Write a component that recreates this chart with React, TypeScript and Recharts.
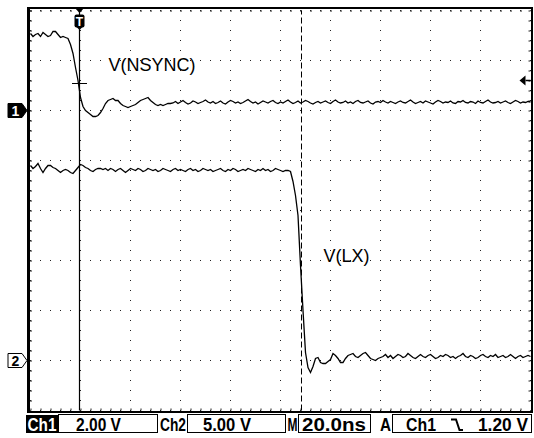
import {
  CartesianGrid,
  Line,
  LineChart,
  ReferenceArea,
  ReferenceDot,
  ReferenceLine,
  XAxis,
  YAxis,
} from "recharts";

// scope screen: 10 div x 20.0 ns, one sample per ns
const SAMPLE_NS = 1;
const timeTicks = [0, 20, 40, 60, 80, 100, 120, 140, 160, 180, 200];

// Ch1 2.00 V/div, ground marker 6 div up from the bottom
const ch1Ticks = [-12, -10, -8, -6, -4, -2, 0, 2, 4];
// Ch2 5.00 V/div, ground marker 1 div up from the bottom
const ch2Domain = [-5, 35];

const triggerTime = 19.6;
const triggerLevel = 1.2;
const crossLevel = 1.08;
const cursorTime = 108.4;

// V(NSYNC), volts
const ch1Volts = [
  3.08, 2.96, 3.04, 3.08, 2.96, 3.12, 3.04, 2.96, 3.0, 3.16, 3.16, 3.04,
  2.92, 2.96, 2.92, 2.88, 2.64, 2.28, 1.72, 1.2, 0.52, 0.16, 0.0, -0.08,
  -0.16, -0.24, -0.24, -0.2, -0.08, 0.08, 0.28, 0.4, 0.44, 0.48, 0.4, 0.4,
  0.28, 0.2, 0.16, 0.12, 0.16, 0.2, 0.24, 0.32, 0.4, 0.44, 0.48, 0.52,
  0.4, 0.32, 0.24, 0.2, 0.24, 0.2, 0.24, 0.28, 0.28,
  0.3, 0.36, 0.28, 0.34, 0.4, 0.32, 0.26, 0.3, 0.38, 0.34, 0.28, 0.32,
  0.36, 0.42, 0.34, 0.3, 0.36, 0.28, 0.32, 0.38, 0.3, 0.26, 0.34, 0.4,
  0.36, 0.3, 0.34, 0.28, 0.32, 0.38, 0.44, 0.36, 0.3, 0.34, 0.26, 0.32,
  0.38, 0.34, 0.3, 0.36, 0.4, 0.32, 0.28, 0.34, 0.3, 0.36, 0.42, 0.34,
  0.28, 0.32, 0.38, 0.3, 0.34, 0.4, 0.36, 0.3, 0.26, 0.32, 0.36, 0.3,
  0.34, 0.38, 0.32, 0.28, 0.36, 0.42, 0.34, 0.3, 0.32, 0.38, 0.3, 0.34,
  0.28, 0.36, 0.4, 0.32, 0.3, 0.34, 0.38, 0.3, 0.26, 0.34, 0.36, 0.32,
  0.4, 0.34, 0.3, 0.36, 0.32, 0.28, 0.34, 0.38, 0.32, 0.3, 0.36, 0.42,
  0.34, 0.28, 0.32, 0.36, 0.3, 0.38, 0.34, 0.3, 0.26, 0.34, 0.4, 0.36,
  0.3, 0.34, 0.32, 0.38, 0.3, 0.28, 0.36, 0.34, 0.4, 0.32, 0.3, 0.36,
  0.34, 0.28, 0.38, 0.32, 0.3, 0.36, 0.42, 0.34, 0.3, 0.32, 0.36, 0.3,
  0.34, 0.38, 0.32, 0.28, 0.34, 0.4, 0.36, 0.3, 0.34, 0.32, 0.36, 0.34,
];

// V(LX), volts
const ch2Volts = [
  19.5, 19.2, 19.4, 19.7, 19.2, 18.8, 19.2, 19.5, 19.5, 19.3, 19.2, 19.0,
  18.8, 19.0, 19.1, 19.0, 18.8, 18.7, 19.0, 19.3, 19.6, 19.5, 19.3, 19.2,
  19.0, 18.9, 19.1, 19.2, 19.2,
  19.1, 19.2, 19.0, 19.2, 19.1, 18.9, 19.1, 19.2, 19.0, 18.8, 19.0, 19.2,
  19.1, 19.0, 19.2, 19.1, 18.9, 19.0, 19.2, 19.1, 19.0, 19.1, 18.9, 19.0,
  19.2, 19.1, 19.0, 18.9, 19.1, 19.2, 19.0, 19.1, 19.0, 18.9, 19.1, 19.2,
  19.0, 19.1, 18.9, 19.0, 19.2, 19.1, 19.0, 19.1, 18.9, 19.0, 19.1, 19.2,
  19.0, 18.9, 19.1, 19.0, 19.2, 19.1, 18.9, 19.0, 19.1, 19.0, 19.2, 19.1,
  19.0, 18.9, 19.1, 19.0, 19.2, 19.0, 19.1, 18.9, 19.0, 19.2, 19.1, 19.0,
  18.9, 19.0,
  19.0, 18.9, 17.9, 16.5, 14.5, 9.5, 5.0, 0.8, -0.7, -1.2, -0.6, 0.2,
  0.3, -0.2, -0.3, -0.3, -0.1, 0.1, 0.7, 0.5, 0.2, -0.2, -0.2, 0.2,
  0.5, 0.6, 0.7, 0.4, 0.3, 0.5, 0.7, 0.8, 0.5, 0.2, 0.1, 0.0, 0.2, 0.3,
  0.4, 0.6, 0.3, 0.5, 0.2, 0.4, 0.6, 0.5, 0.3, 0.4, 0.7, 0.5,
  0.3, 0.2, 0.4, 0.6, 0.4, 0.3, 0.5, 0.6, 0.4, 0.2, 0.3, 0.5,
  0.4, 0.6, 0.5, 0.3, 0.4, 0.2, 0.4, 0.5, 0.7, 0.4, 0.3, 0.5,
  0.4, 0.2, 0.3, 0.5, 0.6, 0.4, 0.3, 0.5, 0.4, 0.6, 0.3, 0.4,
  0.5, 0.3, 0.4, 0.6, 0.4, 0.2, 0.4, 0.5, 0.3, 0.4, 0.5, 0.4,
];

const rows = ch1Volts.map((v, i) => ({
  t: i * SAMPLE_NS,
  ch1: v,
  ch2: ch2Volts[i],
}));

const FONT = "'Liberation Sans', Arial, sans-serif";

type Box = { x: number; y: number; width: number; height: number };

function Frame({ x, y, width, height }: Box) {
  const ticks = { stroke: "#222", strokeWidth: 2, strokeDasharray: "1 9" };
  return (
    <g>
      <line x1={x + 0.5} y1={y} x2={x + 0.5} y2={y + height} {...ticks} />
      <line x1={x + width - 1} y1={y} x2={x + width - 1} y2={y + height} {...ticks} />
      <line x1={x} y1={y + 0.5} x2={x + width} y2={y + 0.5} {...ticks} />
      <line x1={x} y1={y + height - 1} x2={x + width} y2={y + height - 1} {...ticks} />
      <rect x={x - 3.5} y={y - 3.5} width={3} height={height + 6} fill="#000" />
      <rect x={x - 3.5} y={y - 3.5} width={width + 6} height={2} fill="#000" />
      <rect x={x + width + 0.5} y={y - 3.5} width={2} height={height + 6} fill="#000" />
      <rect x={x - 3.5} y={y + height + 0.5} width={width + 6} height={2} fill="#000" />
    </g>
  );
}

function TriggerMark({ viewBox }: { viewBox?: Box }) {
  if (!viewBox) return null;
  const { x, y } = viewBox;
  return (
    <g>
      <path d={`M${x - 5},${y - 3} L${x + 5},${y - 3} L${x},${y + 2.5} Z`} fill="#000" />
      <rect x={x - 5} y={y + 4} width={10} height={13} rx={2} fill="#000" />
      <path d={`M${x - 3},${y + 16.5} L${x + 3},${y + 16.5} L${x},${y + 19.5} Z`} fill="#000" />
      <text x={x} y={y + 15} textAnchor="middle" fill="#fff" fontSize={12} fontWeight="bold" fontFamily={FONT}>
        T
      </text>
    </g>
  );
}

function LevelArrow({ viewBox }: { viewBox?: Box }) {
  if (!viewBox) return null;
  const right = viewBox.x + viewBox.width;
  const y = viewBox.y;
  return (
    <g>
      <path d={`M${right - 11},${y} L${right - 5},${y - 5} L${right - 5},${y + 5} Z`} fill="#000" />
      <line x1={right - 5} y1={y} x2={right} y2={y} stroke="#000" strokeWidth={1.5} />
    </g>
  );
}

function GroundMark({ viewBox, name, filled }: { viewBox?: Box; name: string; filled: boolean }) {
  if (!viewBox) return null;
  const l = viewBox.x;
  const y = viewBox.y;
  return (
    <g>
      <path
        d={`M${l - 22.5},${y - 7} L${l - 8.5},${y - 7} L${l - 3.5},${y} L${l - 8.5},${y + 7} L${l - 22.5},${y + 7} Z`}
        fill={filled ? "#000" : "#fff"}
        stroke="#000"
        strokeWidth={1}
      />
      <text
        x={l - 15}
        y={y + 5}
        textAnchor="middle"
        fill={filled ? "#fff" : "#000"}
        fontSize={14}
        fontWeight="bold"
        fontFamily={FONT}
      >
        {name}
      </text>
    </g>
  );
}

function traceLabel(text: string) {
  return (p: any) => {
    const vb = p.viewBox as Box;
    return (
      <text
        x={vb.x + vb.width / 2}
        y={vb.y + vb.height / 2}
        textAnchor="middle"
        dominantBaseline="central"
        fontSize={18}
        fontFamily={FONT}
        fill="#000"
      >
        {text}
      </text>
    );
  };
}

function StatusBar() {
  const txt = { fontSize: 18, fontWeight: 600, fontFamily: FONT, lengthAdjust: "spacingAndGlyphs" } as const;
  const box = { fill: "none", stroke: "#000", strokeWidth: 1 };
  const base = 431;
  return (
    <svg width={534} height={438} style={{ position: "absolute", left: 0, top: 0, pointerEvents: "none" }}>
      <rect x={26} y={415} width={32} height={18} fill="#000" />
      <text x={27.5} y={base} fill="#fff" textLength={29} {...txt}>Ch1</text>
      <rect x={58.5} y={414.5} width={99} height={18} {...box} />
      <text x={76} y={base} textLength={45} {...txt}>2.00 V</text>
      <text x={160} y={base} textLength={26} {...txt}>Ch2</text>
      <rect x={187.5} y={414.5} width={98} height={18} {...box} />
      <text x={203} y={base} textLength={48} {...txt}>5.00 V</text>
      <text x={287.5} y={base} textLength={10} {...txt}>M</text>
      <rect x={298.5} y={414.5} width={72} height={18} {...box} />
      <text x={302} y={base} textLength={64} {...txt}>20.0ns</text>
      <text x={380} y={base} textLength={11} {...txt}>A</text>
      <rect x={392.5} y={414.5} width={139} height={18} {...box} />
      <text x={406} y={base} textLength={30} {...txt}>Ch1</text>
      <path d="M451,419.5 H456 L459.5,430 H463" fill="none" stroke="#000" strokeWidth={2} />
      <text x={478} y={base} textLength={50} {...txt}>1.20 V</text>
    </svg>
  );
}

export default function App() {
  return (
    <div style={{ position: "fixed", left: 0, top: 0, width: 534, height: 438, background: "#fff" }}>
      <LineChart
        width={534}
        height={438}
        data={rows}
        margin={{ top: 10.5, right: 3.5, bottom: 27.5, left: 30.5 }}
      >
        <XAxis type="number" dataKey="t" domain={[0, 200]} ticks={timeTicks} hide />
        <YAxis yAxisId="ch1" type="number" domain={[-12, 4]} ticks={ch1Ticks} hide />
        <YAxis yAxisId="ch2" type="number" domain={ch2Domain} hide />
        <CartesianGrid yAxisId="ch1" stroke="#222" strokeDasharray="1 9" strokeDashoffset={0.5} />
        <ReferenceArea
          yAxisId="ch1"
          x1={0}
          x2={200}
          y1={-12}
          y2={4}
          shape={(p: any) => <Frame x={p.x} y={p.y} width={p.width} height={p.height} />}
        />
        <ReferenceLine
          yAxisId="ch1"
          x={cursorTime}
          stroke="#000"
          strokeWidth={1}
          strokeDasharray="6 3"
        />
        <ReferenceLine
          yAxisId="ch1"
          x={triggerTime}
          stroke="#000"
          strokeWidth={1.2}
          label={(p: any) => <TriggerMark viewBox={p.viewBox} />}
        />
        <ReferenceLine
          yAxisId="ch1"
          segment={[
            { x: triggerTime - 3, y: crossLevel },
            { x: triggerTime + 3, y: crossLevel },
          ]}
          stroke="#000"
          strokeWidth={1}
        />
        <ReferenceLine
          yAxisId="ch1"
          y={triggerLevel}
          stroke="none"
          label={(p: any) => <LevelArrow viewBox={p.viewBox} />}
        />
        <ReferenceLine
          yAxisId="ch1"
          y={0}
          stroke="none"
          label={(p: any) => <GroundMark viewBox={p.viewBox} name="1" filled />}
        />
        <ReferenceLine
          yAxisId="ch2"
          y={0}
          stroke="none"
          label={(p: any) => <GroundMark viewBox={p.viewBox} name="2" filled={false} />}
        />
        <Line
          yAxisId="ch1"
          dataKey="ch1"
          type="linear"
          stroke="#000"
          strokeWidth={1.3}
          dot={false}
          isAnimationActive={false}
        />
        <Line
          yAxisId="ch2"
          dataKey="ch2"
          type="linear"
          stroke="#000"
          strokeWidth={1.3}
          dot={false}
          isAnimationActive={false}
        />
        <ReferenceDot
          yAxisId="ch1"
          x={48.6}
          y={1.84}
          r={1}
          fill="none"
          stroke="none"
          label={traceLabel("V(NSYNC)")}
        />
        <ReferenceDot
          yAxisId="ch2"
          x={126.4}
          y={10.45}
          r={1}
          fill="none"
          stroke="none"
          label={traceLabel("V(LX)")}
        />
      </LineChart>
      <StatusBar />
    </div>
  );
}
